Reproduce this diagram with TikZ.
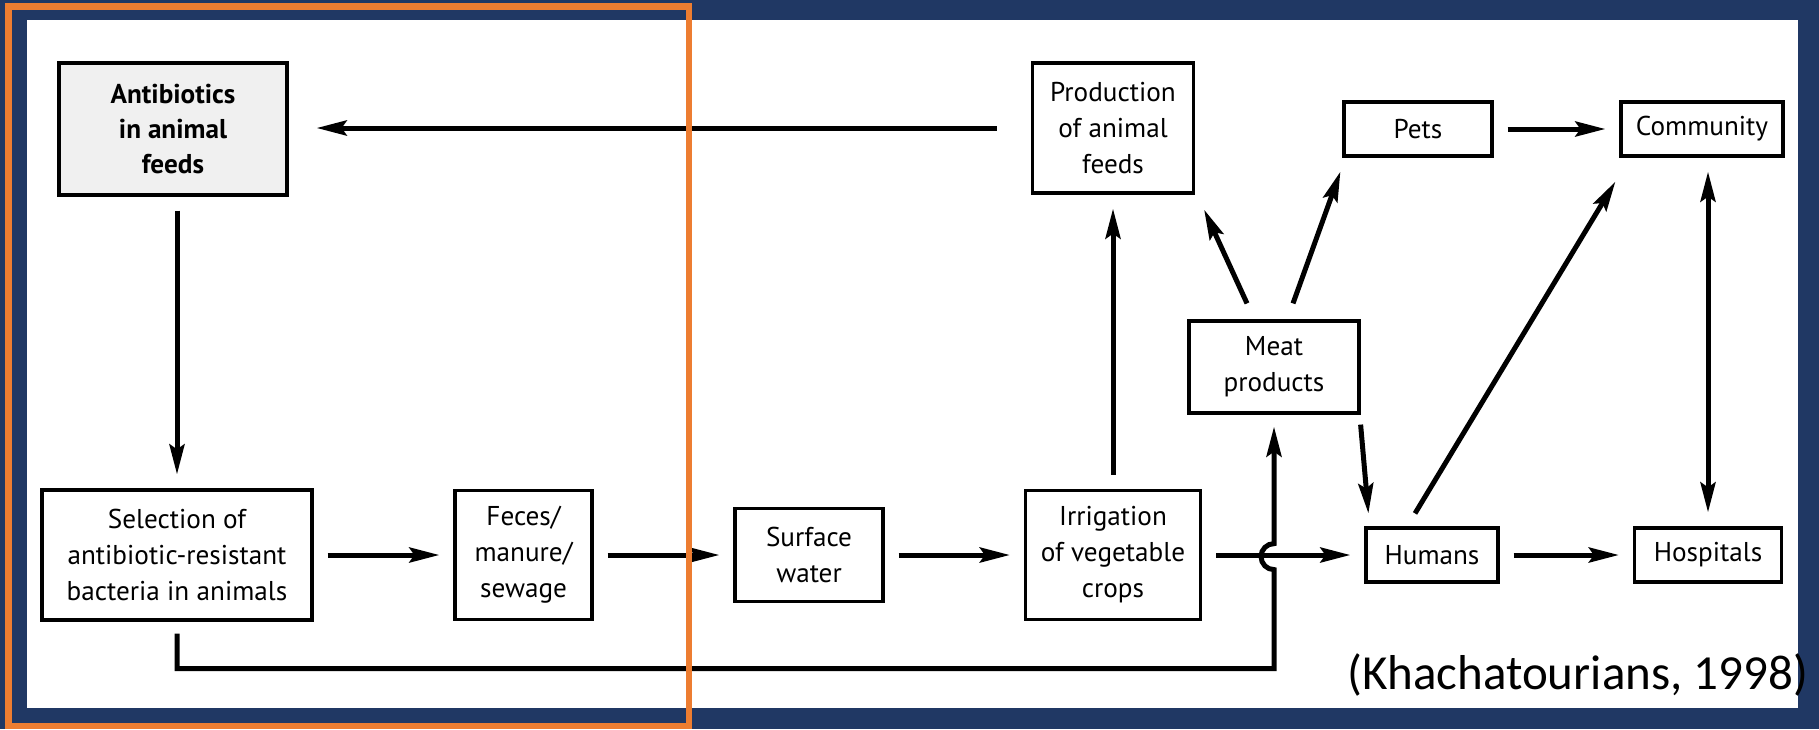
\documentclass[tikz,border=0pt]{standalone}
\usepackage{fontspec}
\setmainfont{PT Sans}
\newfontfamily\citefont{Carlito}
\usetikzlibrary{arrows.meta,calc}
\definecolor{navy}{RGB}{32,56,100}
\definecolor{frame}{RGB}{237,125,49}
\definecolor{feedgray}{RGB}{240,240,240}
\tikzset{
  box/.style={draw,line width=1.6pt,align=center,inner sep=0pt,font=\fontsize{13.6}{18}\selectfont},
  flow/.style={->,line width=2.5pt},
  gap/.style={shorten <=7pt,shorten >=7pt}
}

\begin{document}
\begin{tikzpicture}[x=0.5pt,y=-0.5pt,>={Stealth[length=15pt,width=7.5pt,inset=2.5pt]}]
  \useasboundingbox (0,0) rectangle (1819,729);
  \fill[navy] (0,0) rectangle (1819,729);
  \fill[white] (27,20) rectangle (1798,708);

  \node[box,fill=feedgray,minimum width=114pt,minimum height=66pt,font=\fontsize{13.6}{17.5}\selectfont\bfseries] (anti) at (173,129) {Antibiotics\\in animal\\feeds};
  \node[box,minimum width=80.5pt,minimum height=65pt] (prod) at (1113,128) {Production\\of animal\\feeds};
  \node[box,minimum width=74pt,minimum height=27pt] (pets) at (1418,129) {Pets};
  \node[box,minimum width=81pt,minimum height=27pt] (comm) at (1702,129) {Community};
  \node[box,minimum width=85pt,minimum height=46pt] (meat) at (1274,367) {Meat\\products};
  \node[box,minimum width=135pt,minimum height=65pt] (sel) at (177,555) {Selection of\\antibiotic-resistant\\bacteria in animals};
  \node[box,minimum width=68.5pt,minimum height=64.5pt] (feces) at (523.5,555) {Feces/\\manure/\\sewage};
  \node[box,minimum width=74pt,minimum height=46.5pt] (surf) at (809,555) {Surface\\water};
  \node[box,minimum width=87.5pt,minimum height=64.5pt] (irr) at (1113,555) {Irrigation\\of vegetable\\crops};
  \node[box,minimum width=66pt,minimum height=27pt] (hum) at (1432,555) {Humans};
  \node[box,minimum width=73.5pt,minimum height=27pt] (hosp) at (1708,555) {Hospitals};

  \draw[flow,shorten <=17pt,shorten >=14pt] (prod.west) -- (anti.east |- prod.west);
  \draw[flow,gap] (sel.north |- anti.south) -- (sel.north);
  \draw[flow,gap] (sel) -- (feces);
  \draw[flow,gap] (feces) -- (surf);
  \draw[flow,gap] (surf) -- (irr);
  \draw[flow,gap] (irr) -- (hum);
  \draw[flow,gap] (hum) -- (hosp);
  \draw[flow,gap] (pets) -- (comm);
  \draw[flow,gap] (irr) -- (prod);
  \draw[flow,gap,<->] (comm.south -| hosp.north) -- (hosp.north);
  \draw[flow] ($(meat.north)+(-27,-16)$) -- ($(prod.south east)+(9,15)$);
  \draw[flow] ($(meat.north)+(19,-16)$) -- ($(pets.south west)+(-2,14)$);
  \draw[flow] ($(meat.south east)+(0,10)$) -- ($(hum.north west)+(4,-13)$);
  \draw[flow] ($(hum.north)+(-17,-13)$) -- ($(comm.south west)+(-4,24)$);
  \draw[flow,shorten >=6pt] ($(sel.south)+(0,12)$) |- ($(meat.south)+(0,254)$)
    -- ($(meat.south)+(0,155)$) arc[start angle=-90,end angle=-270,radius=6.5pt] -- (meat.south);

  \node[font=\citefont\fontsize{24.5}{28}\selectfont,anchor=base east] (cite) at (1815,689) {(Khachatourians, 1998)};
  \draw[frame,line width=3.3pt] (8.5,6.5) rectangle (689,726);
\end{tikzpicture}
\end{document}
